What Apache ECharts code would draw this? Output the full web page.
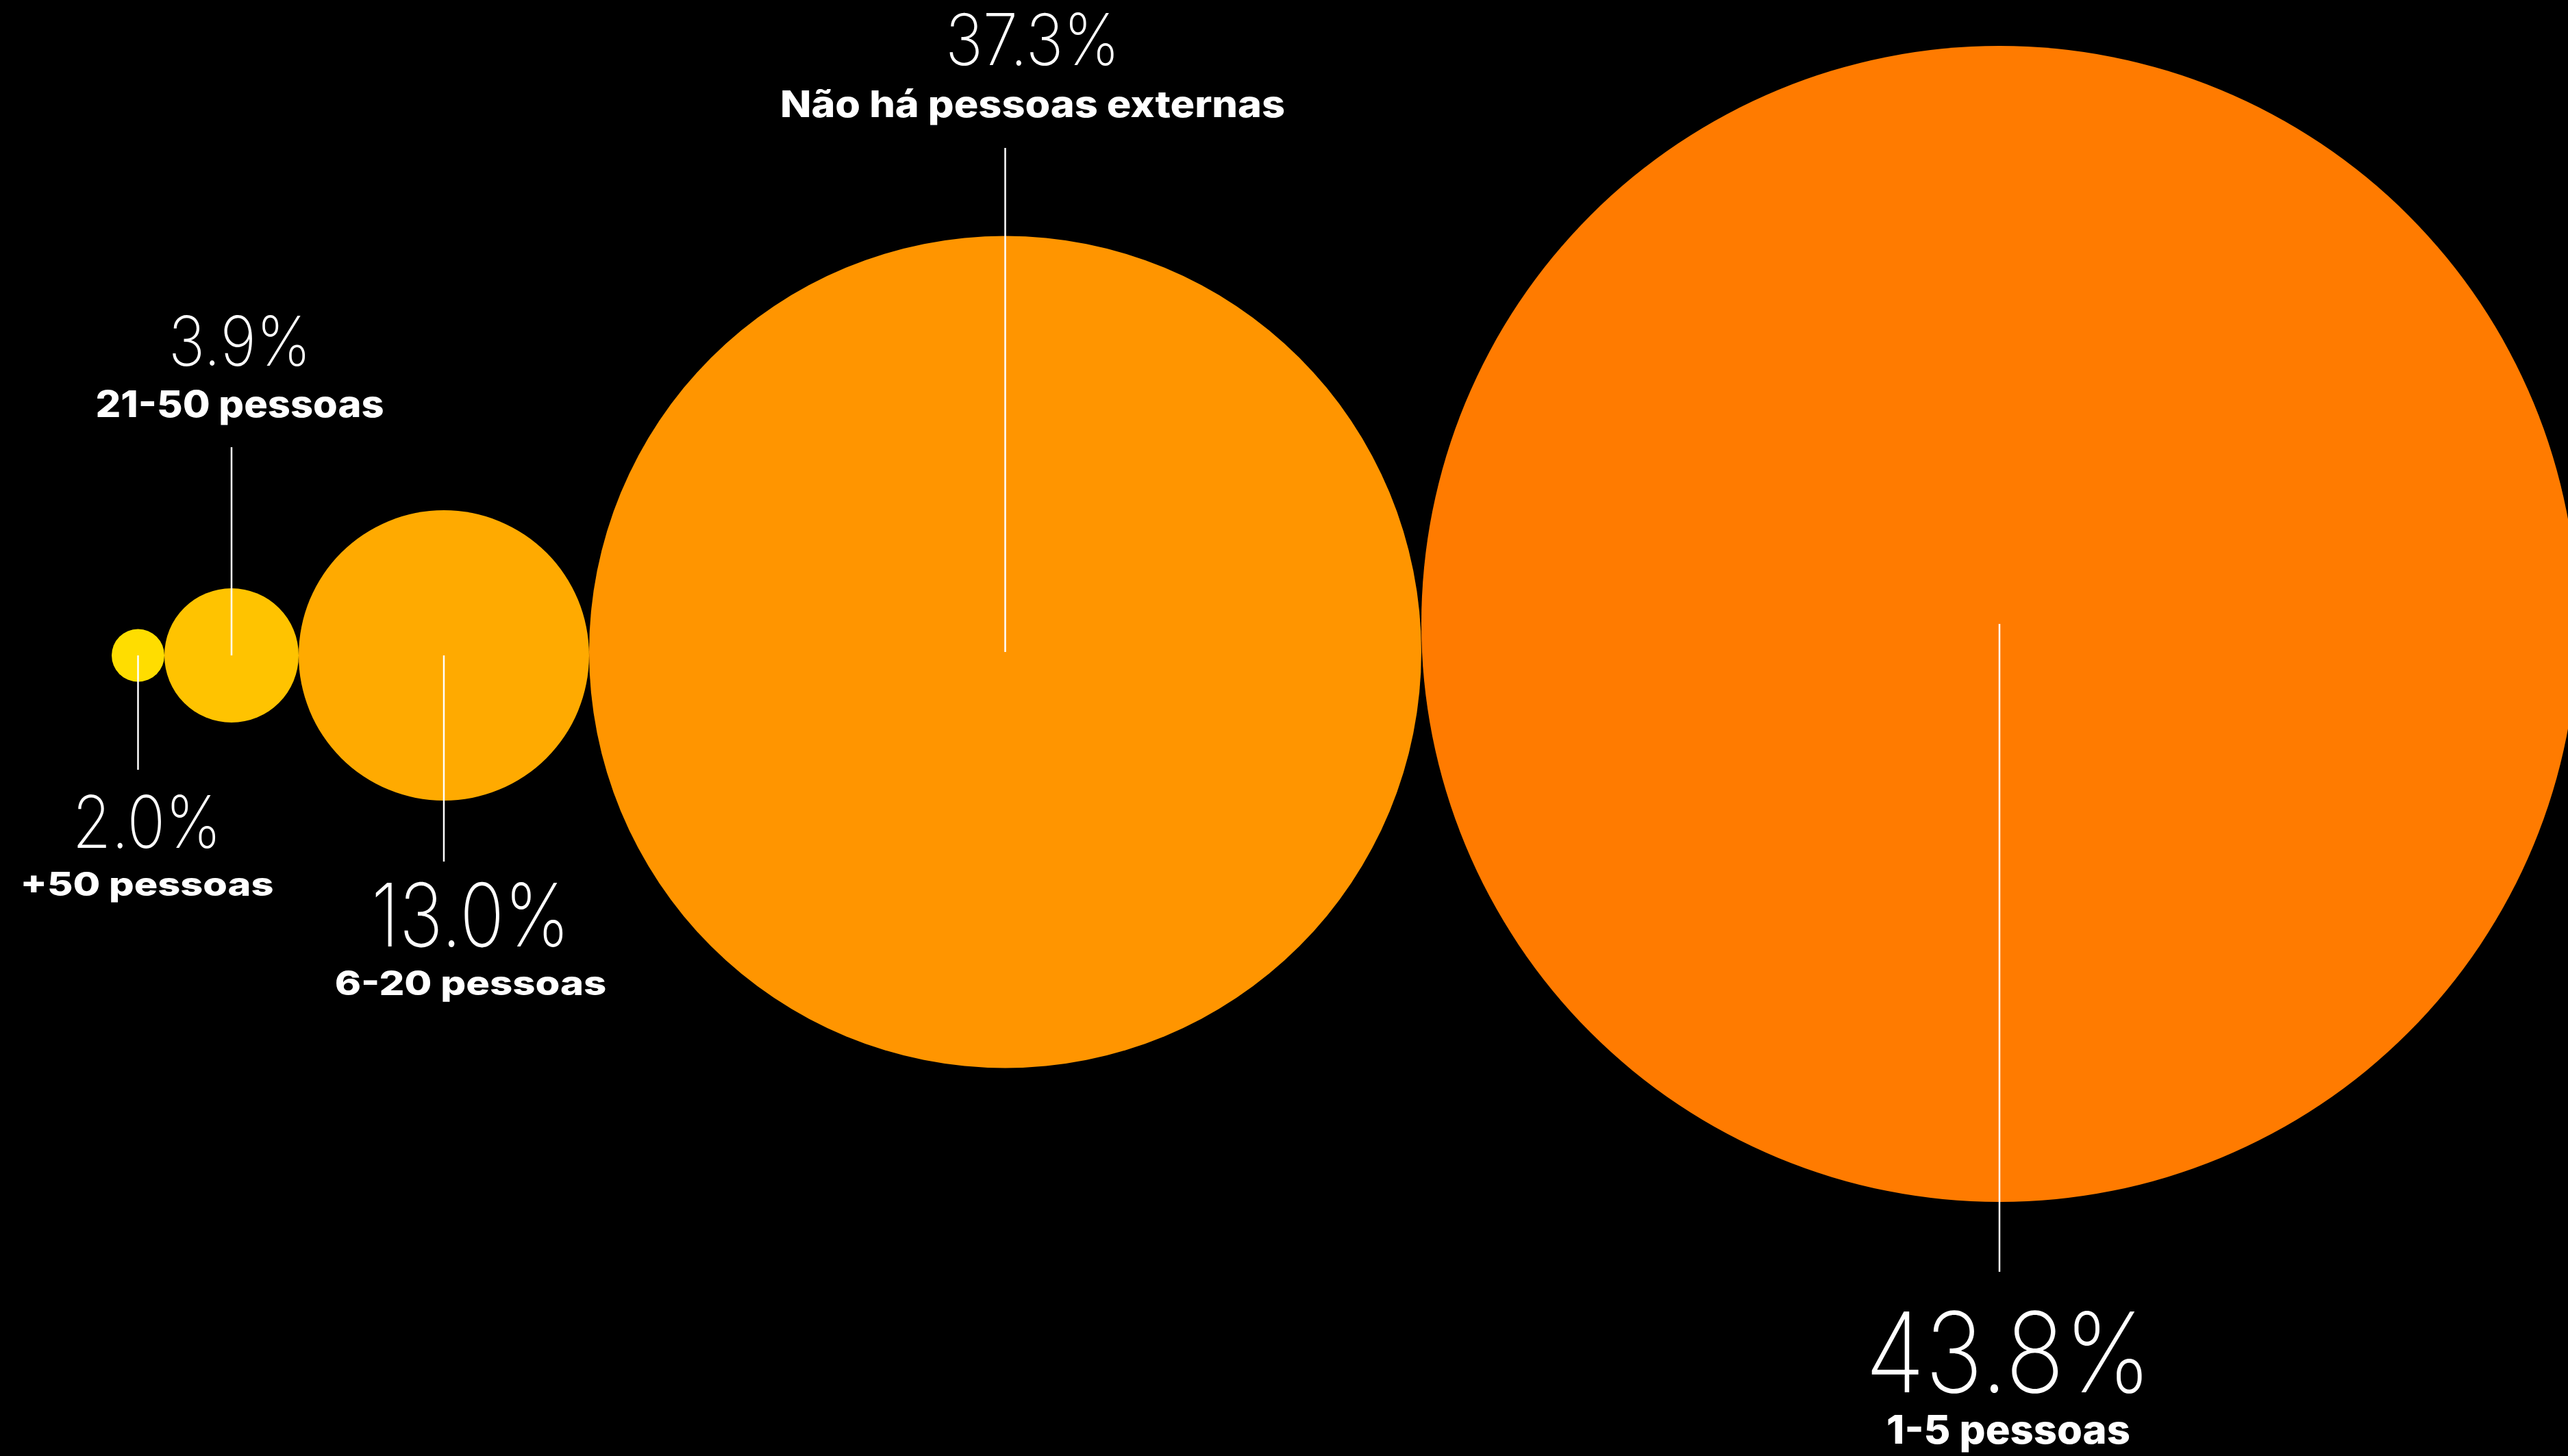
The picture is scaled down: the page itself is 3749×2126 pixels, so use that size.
<!DOCTYPE html>
<html>
<head>
<meta charset="utf-8">
<script src="https://cdn.jsdelivr.net/npm/echarts@6/dist/echarts.min.js"></script>
<style>
  html, body { margin: 0; padding: 0; background: #000; }
  #chart { width: 3749px; height: 2126px; }
</style>
</head>
<body>
<div id="chart"></div>
<script>
// dados
const categories = ['+50 pessoas', '21-50 pessoas', '6-20 pessoas', 'Não há pessoas externas', '1-5 pessoas'];
const values = [2.0, 3.9, 13.0, 37.3, 43.8];

// layout das bolhas (px), cores
const bubbleDiam = [77, 196, 424, 1215, 1688];
const bubbleColors = ['#FFDD00', '#FFC300', '#FFAA00', '#FF9500', '#FF7B00'];
const startX = 163;
const baseY = 957;
const lift = [0, 0, 0, -5, -46];

// linhas de chamada e rótulos: dir 1 = para baixo, -1 = para cima
// pctSx / nameSx: largura do texto (a fonte original é mais larga)
const callouts = [
  { dir: 1, len: 167, dx: 13, pctDy: 82, nameDy: 170, pctSize: 106, nameSize: 48, pctSx: 0.87, nameSx: 1.2 },
  { dir: -1, len: 304, dx: 12, pctDy: -149, nameDy: -60, pctSize: 100, nameSize: 54, pctSx: 0.9, nameSx: 1.07 },
  { dir: 1, len: 301, dx: 39, pctDy: 86, nameDy: 180, pctSize: 128, nameSize: 50, pctSx: 0.84, nameSx: 1.16 },
  { dir: -1, len: 736, dx: 40, pctDy: -152, nameDy: -61, pctSize: 104, nameSize: 54, pctSx: 0.89, nameSx: 1.1 },
  { dir: 1, len: 946, dx: 13, pctDy: 127, nameDy: 234, pctSize: 162, nameSize: 58, pctSx: 0.88, nameSx: 1.03 }
];

// centros: bolhas encostadas uma na outra, da esquerda para a direita
let acc = startX;
const points = values.map(function (v, i) {
  const cx = acc + bubbleDiam[i] / 2;
  acc += bubbleDiam[i];
  return [cx, baseY + lift[i], v];
});

let myChart = echarts.init(document.getElementById('chart'));
myChart.setOption({
  backgroundColor: '#000',
  animation: false,
  grid: { left: 0, right: 0, top: 0, bottom: 0 },
  xAxis: { type: 'value', min: 0, max: 3749, show: false },
  yAxis: { type: 'value', min: 0, max: 2126, inverse: true, show: false },
  series: [{
    type: 'custom',
    clip: false,
    data: points,
    renderItem: function (params, api) {
      const i = params.dataIndex;
      const c = api.coord([api.value(0), api.value(1)]);
      const r = api.size([bubbleDiam[i], 0])[0] / 2;
      const co = callouts[i];
      const yEnd = c[1] + co.dir * co.len;
      const tx = c[0] + co.dx;
      return {
        type: 'group',
        children: [
          {
            type: 'circle',
            z2: 0,
            shape: { cx: c[0], cy: c[1], r: r },
            style: { fill: bubbleColors[i] }
          },
          {
            type: 'line',
            z2: 10,
            shape: { x1: c[0], y1: c[1], x2: c[0], y2: yEnd },
            style: { stroke: '#fff', lineWidth: 2.5 }
          },
          {
            type: 'text',
            z2: 10,
            x: tx,
            y: yEnd + co.pctDy,
            scaleX: co.pctSx,
            style: {
              text: api.value(2).toFixed(1) + '%',
              fill: '#fff',
              fontFamily: 'Inter',
              fontWeight: 200,
              fontSize: co.pctSize,
              align: 'center',
              verticalAlign: 'middle'
            }
          },
          {
            type: 'text',
            z2: 10,
            x: tx,
            y: yEnd + co.nameDy,
            scaleX: co.nameSx,
            style: {
              text: categories[i],
              fill: '#fff',
              fontFamily: 'Inter',
              fontWeight: 800,
              fontSize: co.nameSize,
              align: 'center',
              verticalAlign: 'middle'
            }
          }
        ]
      };
    }
  }]
});
</script>
</body>
</html>
